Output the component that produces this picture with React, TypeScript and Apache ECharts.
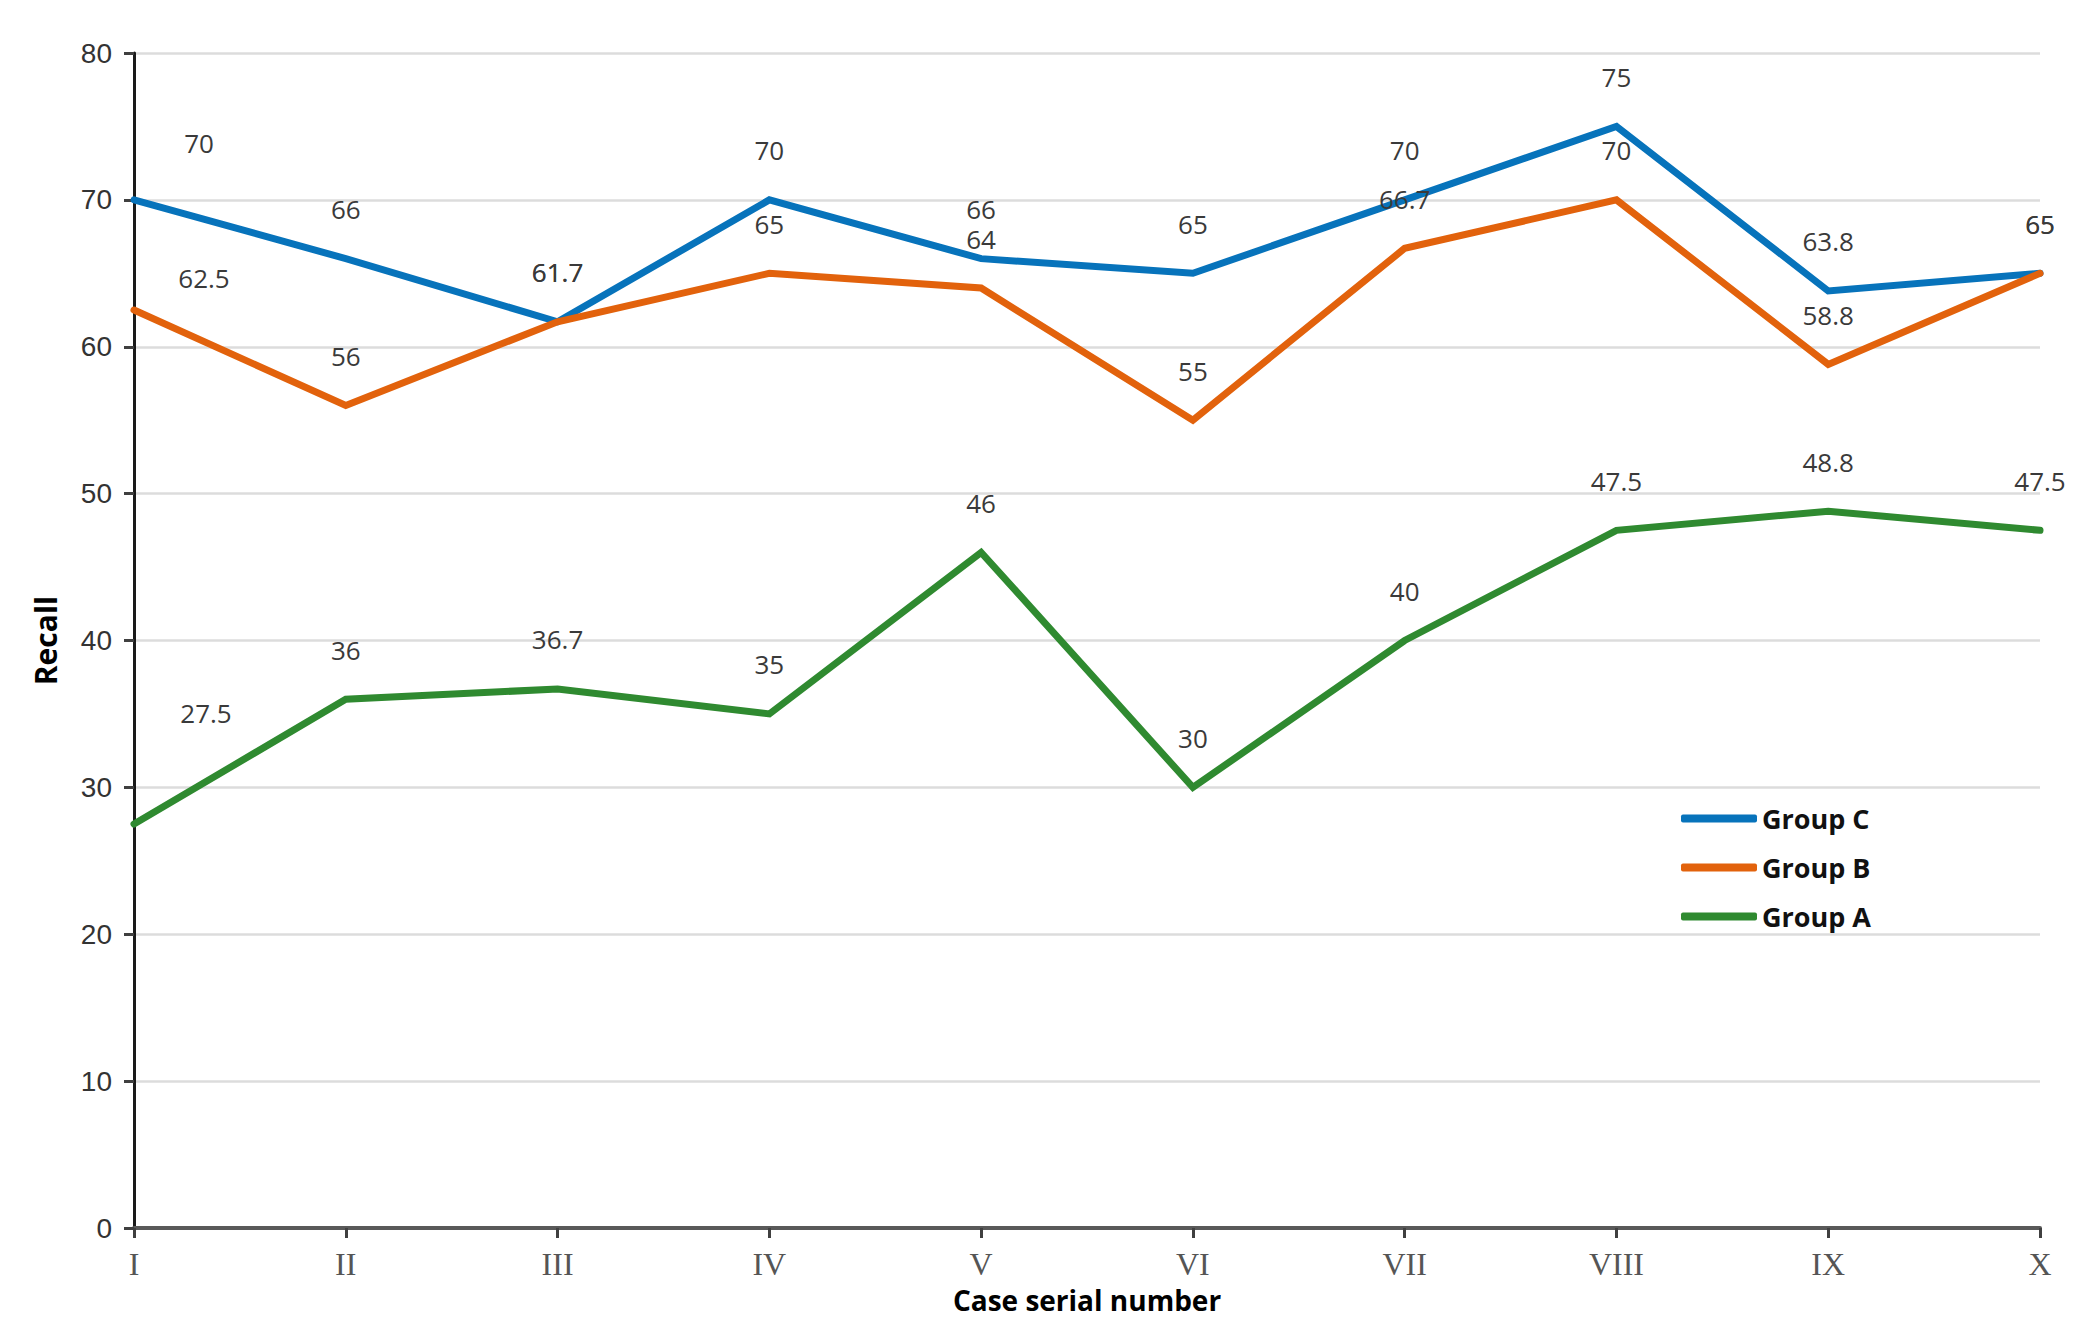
import React, { useEffect, useRef } from "react";
import * as echarts from "echarts";

const categories = ["I", "II", "III", "IV", "V", "VI", "VII", "VIII", "IX", "X"];
const seriesNames = ["Group C", "Group B", "Group A"];
const groupC = [70, 66, 61.7, 70, 66, 65, 70, 75, 63.8, 65];
const groupB = [62.5, 56, 61.7, 65, 64, 55, 66.7, 70, 58.8, 65];
const groupA = [27.5, 36, 36.7, 35, 46, 30, 40, 47.5, 48.8, 47.5];
const yTicks = { min: 0, max: 80, interval: 10 };

const colors = ["#0773bb", "#e2620c", "#2f8a30"];
const firstLabelOffsets: number[][] = [
  [65, -7],
  [70, 17],
  [72, -62],
];

export default function App() {
  const ref = useRef<HTMLDivElement>(null);

  useEffect(() => {
    if (!ref.current) return;
    const chart = echarts.init(ref.current, undefined, { renderer: "svg" });
    const values = [groupC, groupB, groupA];
    const series = seriesNames.map((name, si) => ({
      name,
      type: "line",
      symbol: "circle",
      symbolSize: 1,
      showSymbol: true,
      z: 2 + si,
      lineStyle: { color: colors[si], width: 7, cap: "round", join: "miter" },
      itemStyle: { color: colors[si] },
      label: {
        show: true,
        position: "top",
        distance: 36,
        fontFamily: "Open Sans",
        fontSize: 26,
        color: "#3a3a3a",
      },
      data: values[si].map((v, i) =>
        i === 0 ? { value: v, label: { offset: firstLabelOffsets[si] } } : v
      ),
    }));

    chart.setOption({
      animation: false,
      backgroundColor: "#ffffff",
      grid: { left: 134, right: 59, top: 53, bottom: 93, containLabel: false },
      legend: {
        data: seriesNames,
        orient: "vertical",
        left: 1676,
        top: 800,
        icon: "roundRect",
        itemWidth: 76,
        itemHeight: 8,
        itemGap: 22,
        textStyle: {
          fontFamily: "Open Sans",
          fontWeight: "bold",
          fontSize: 27,
          color: "#111111",
        },
      },
      xAxis: {
        type: "category",
        data: categories,
        boundaryGap: false,
        name: "Case serial number",
        nameLocation: "middle",
        nameGap: 58,
        nameTextStyle: {
          fontFamily: "Open Sans",
          fontWeight: "bold",
          fontSize: 28,
          color: "#000000",
        },
        axisLine: { show: true, lineStyle: { color: "#595959", width: 4 } },
        axisTick: {
          show: true,
          length: 10,
          alignWithLabel: true,
          lineStyle: { color: "#404040", width: 3 },
        },
        axisLabel: {
          fontFamily: "Liberation Serif",
          fontSize: 32,
          color: "#555555",
          margin: 20,
        },
        splitLine: { show: false },
      },
      yAxis: {
        type: "value",
        min: yTicks.min,
        max: yTicks.max,
        interval: yTicks.interval,
        name: "Recall",
        nameLocation: "middle",
        nameGap: 74,
        nameTextStyle: {
          fontFamily: "Open Sans",
          fontWeight: "bold",
          fontSize: 30,
          color: "#000000",
        },
        axisLine: { show: true, lineStyle: { color: "#1a1a1a", width: 3 } },
        axisTick: { show: true, length: 10, lineStyle: { color: "#404040", width: 3 } },
        axisLabel: {
          fontFamily: "Liberation Sans",
          fontSize: 28,
          color: "#333333",
          margin: 22,
        },
        splitLine: { show: true, lineStyle: { color: "#dcdcdc", width: 2.5 } },
      },
      series,
    });

    return () => chart.dispose();
  }, []);

  return (
    <div
      ref={ref}
      style={{ position: "absolute", left: 0, top: 0, width: 2099, height: 1321 }}
    />
  );
}
